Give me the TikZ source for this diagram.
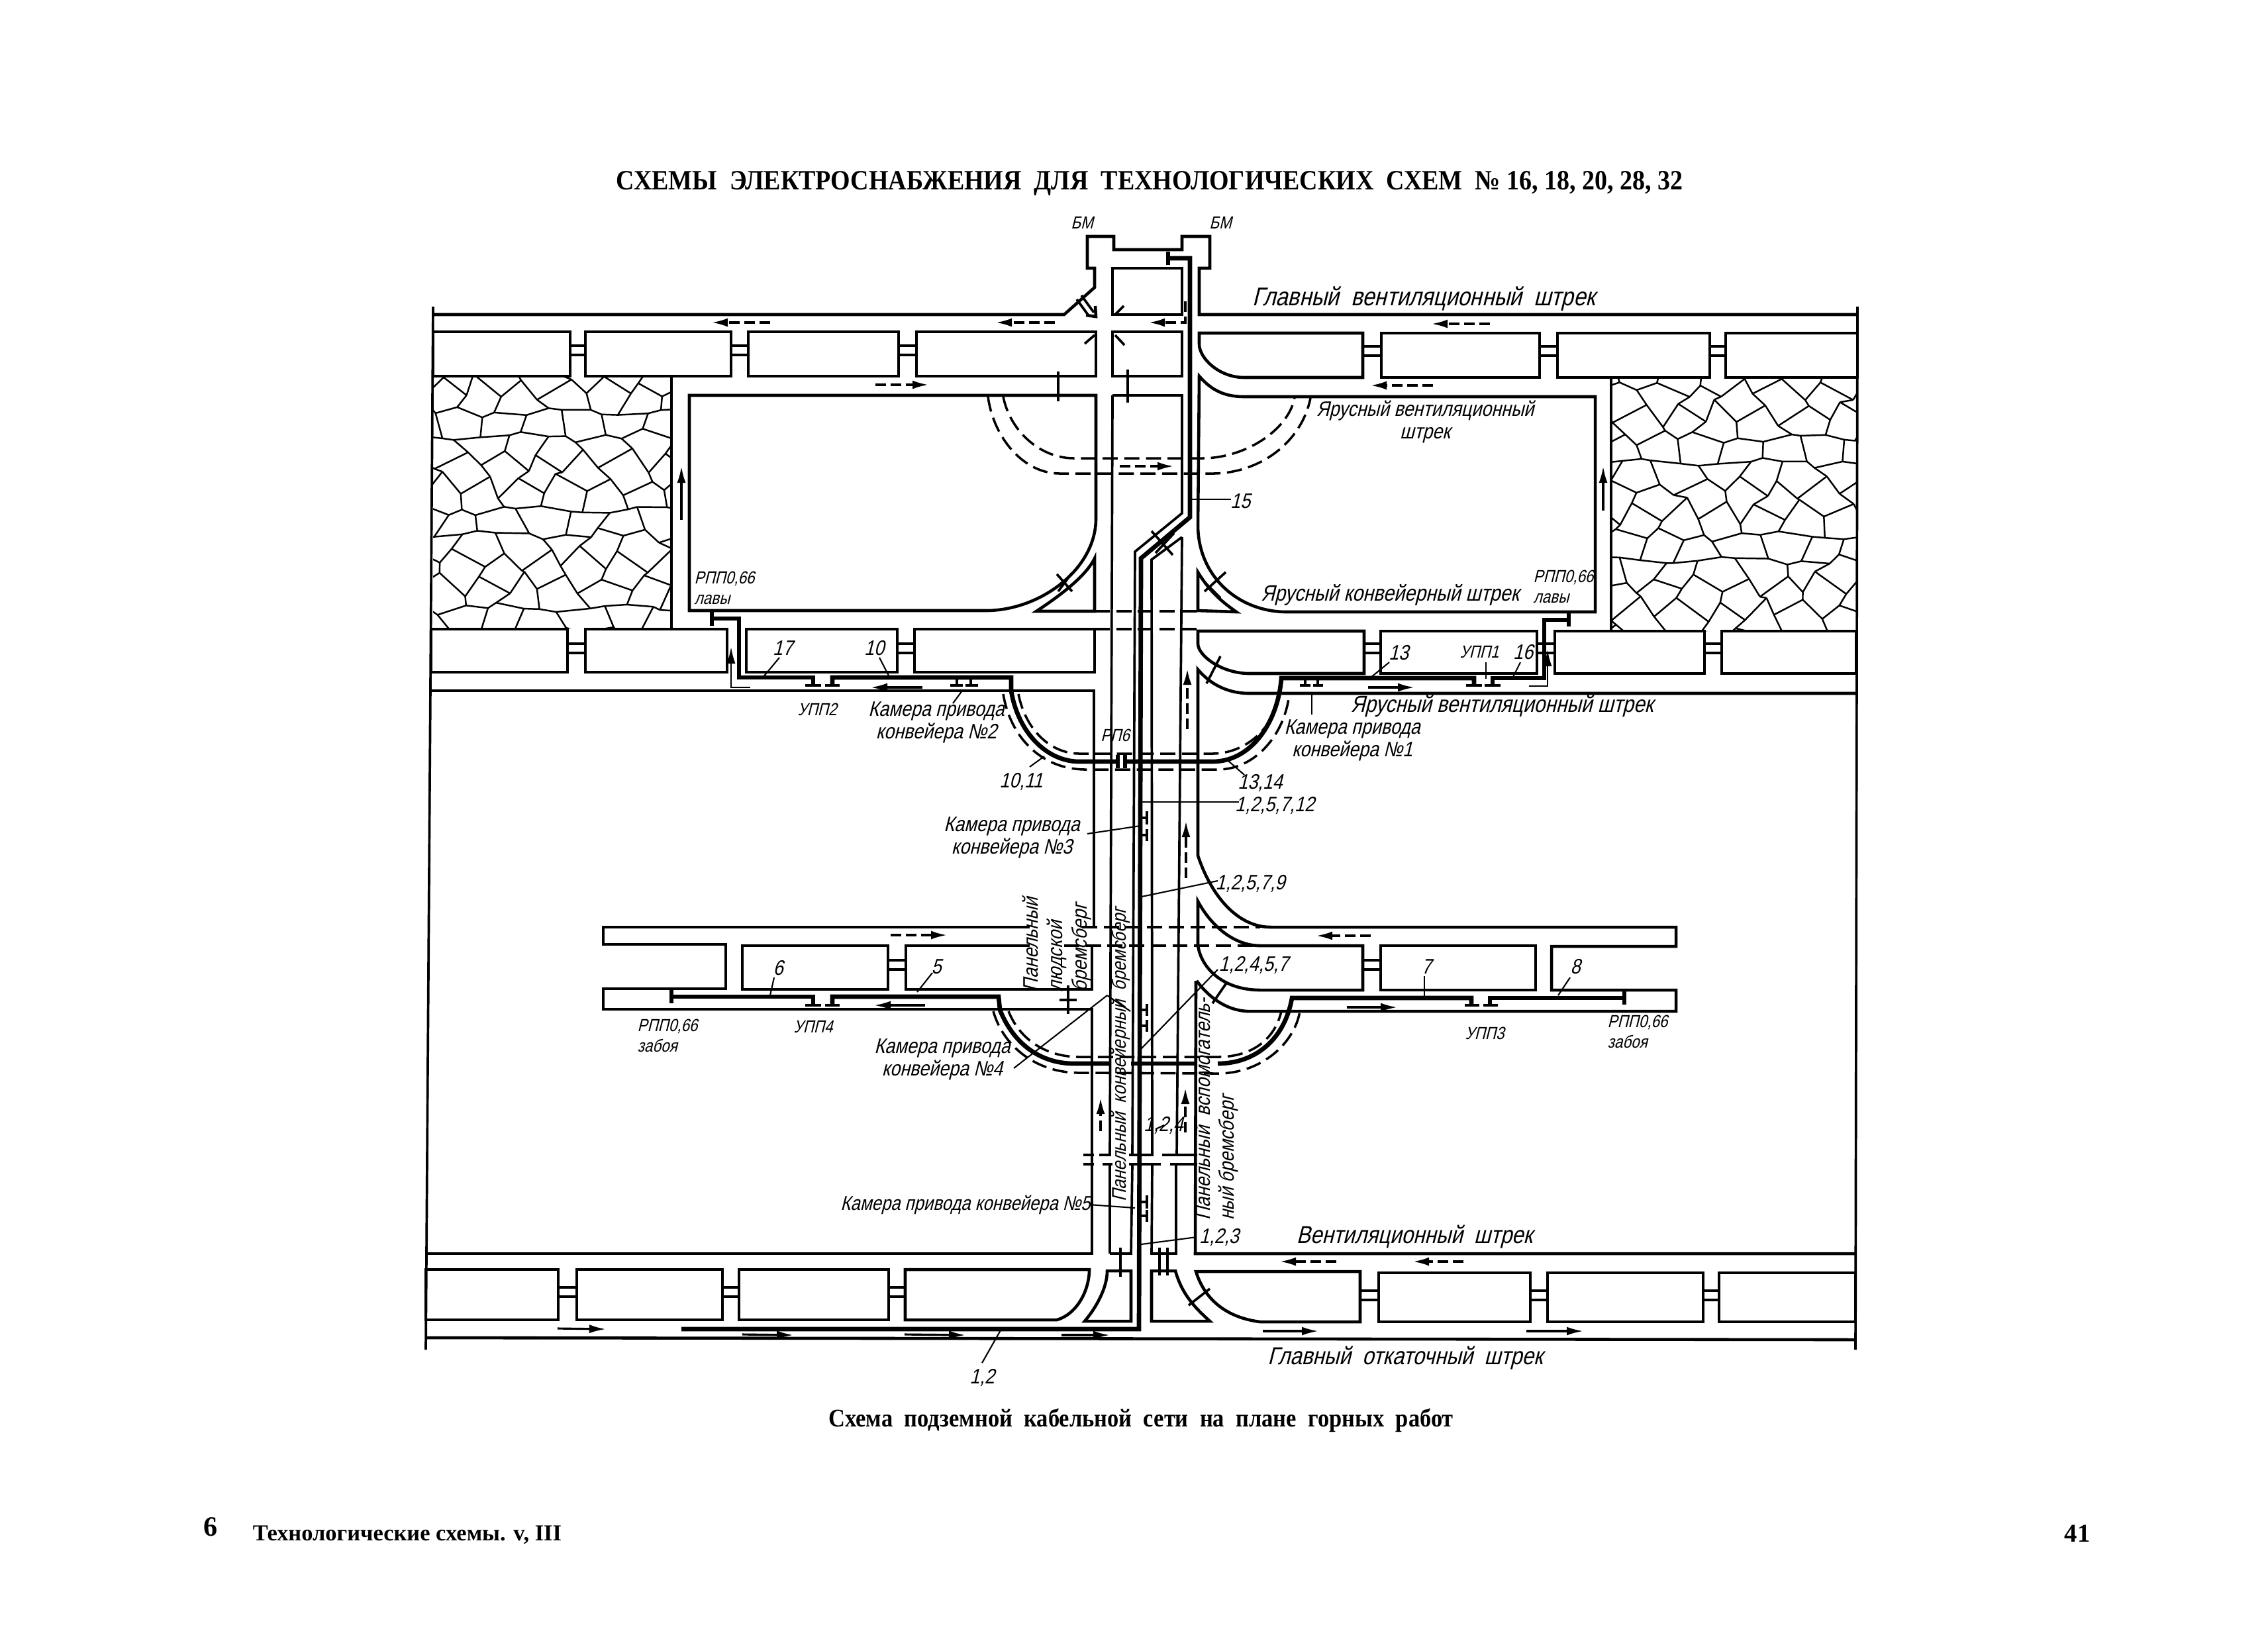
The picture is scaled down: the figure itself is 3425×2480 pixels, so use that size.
\documentclass[tikz,border=0pt]{standalone}
\usepackage{fontspec}
\setmainfont{Liberation Serif}
\newfontfamily\draftfont[FakeStretch=0.85,FakeSlant=0.25]{Liberation Sans}
\newfontfamily\headfont[FakeStretch=0.9]{Liberation Serif}
\usetikzlibrary{arrows.meta}
\tikzset{
  wall/.style={line width=1.3pt,line join=miter},
  thinwall/.style={line width=1.05pt},
  cable/.style={line width=1.9pt},
  drift/.style={line width=1pt,dash pattern=on 6.5pt off 2.8pt},
  air/.style={line width=0.9pt,dash pattern=on 4.5pt off 2pt,-{Latex[length=2.4mm,width=1.3mm]}},
  haul/.style={line width=0.9pt,-{Latex[length=2.5mm,width=1.3mm]}},
  leader/.style={line width=0.6pt},
  stone/.style={line width=0.7pt,rounded corners=1.5pt},
  lbl/.style={inner sep=0pt,font=\draftfont\fontsize{10.5}{12}\selectfont},
  lblmid/.style={inner sep=0pt,font=\draftfont\fontsize{9}{9.5}\selectfont},
  lblsmall/.style={inner sep=0pt,font=\draftfont\fontsize{7.5}{9}\selectfont},
  heading/.style={inner sep=0pt,font=\headfont\bfseries\fontsize{12}{13}\selectfont},
  declare function={
    stonex(\c,\r,\o)=\c*31+9*sin(\c*131+\r*227+\o)+6*sin(\c*47+\r*71+\o*3);
    stoney(\c,\r,\o)=\r*37+ifthenelse(mod(\c+\r,2)==0,-8,8)+8*sin(\c*173+\r*89+\o*2)+5*sin(\c*59+\r*113+\o);
  }
}
\begin{document}
\begin{tikzpicture}[x=0.01cm,y=-0.01cm]
  \useasboundingbox (0,0) rectangle (3425,2480);

  % stones
  \foreach \gx/\gy/\gw/\gh/\off in {654/568/360/380/0,2433/570/370/383/57}
  {
    \begin{scope}
      \clip (\gx,\gy) rectangle (\gx+\gw,\gy+\gh);
      \begin{scope}[shift={(\gx-20,\gy-20)}]
        \foreach \r in {0,1,...,11}
          \foreach \c in {0,1,...,13}
          {
            \draw [stone] ({stonex(\c,\r,\off)},{stoney(\c,\r,\off)}) -- ({stonex(\c+1,\r,\off)},{stoney(\c+1,\r,\off)});
            \pgfmathparse{int(mod(\c+\r,2))}
            \ifnum\pgfmathresult=1
              \draw [stone] ({stonex(\c,\r,\off)},{stoney(\c,\r,\off)}) -- ({stonex(\c,\r+1,\off)},{stoney(\c,\r+1,\off)});
            \fi
          }
      \end{scope}
    \end{scope}
  }

  % outer frame
  \draw [thinwall] (654,463) -- (643,2038);
  \draw [thinwall] (2805,463) -- (2802,2038);
  \draw [thinwall] (1014,568) -- (1014,948);
  \draw [thinwall] (2433,570) -- (2433,953);

  % shaft and main ventilation drift
  \draw [wall] (654,475) -- (1607,475) -- (1653,434) -- (1653,405) -- (1642,405) -- (1642,357) -- (1682,357)
    -- (1682,377) -- (1785,377) -- (1785,357) -- (1827,357) -- (1827,405) -- (1811,405) -- (1811,475) -- (2805,475);

  % pillars
  \foreach \xa/\ya/\xb/\yb in {654/501/861/568,884/501/1104/568,1130/501/1357/568,1384/501/1655/568,
      1680/501/1785/568,1680/405/1785/475,2086/503/2325/570,2352/503/2582/570,2606/503/2805/570,
      651/950/857/1015,884/950/1098/1015,1127/950/1355/1015,1381/950/1653/1015,
      2085/953/2321/1017,2348/953/2574/1017,2600/953/2803/1017,
      1121/1428/1341/1494,2085/1428/2319/1495,
      643/1917/843/1993,871/1917/1091/1993,1116/1917/1342/1993,
      2082/1922/2311/1996,2337/1922/2572/1996,2596/1922/2802/1996}
    \draw [wall] (\xa,\ya) rectangle (\xb,\yb);

  % pillar links
  \foreach \xa/\xb/\yy in {861/884/522,1104/1130/522,1357/1384/522,2058/2086/523,2325/2352/523,2582/2606/523,
      857/884/972,1355/1381/972,2060/2085/972,2321/2348/972,2574/2600/972,
      1341/1368/1450,2058/2085/1450,
      843/871/1944,1091/1116/1944,1342/1367/1944,2054/2082/1949,2311/2337/1949,2572/2596/1949}
  {
    \draw [wall] (\xa,\yy) -- (\xb,\yy);
    \draw [wall] (\xa,\yy+14) -- (\xb,\yy+14);
  }

  % curved pillars and panels
  \draw [wall] (1811,503) -- (2058,503) -- (2058,570) -- (1879,570) .. controls (1840,570) and (1811,540) .. (1811,520) -- cycle;
  \draw [wall] (1041,597) -- (1655,597) -- (1655,783) .. controls (1655,860) and (1570,922) .. (1489,922) -- (1041,922) -- cycle;
  \draw [wall] (1653,843) -- (1653,923) -- (1565,923) .. controls (1600,900) and (1640,870) .. cycle;
  \draw [wall] (1811,568) .. controls (1830,590) and (1850,599) .. (1879,599) -- (2409,599) -- (2409,924) -- (1943,924)
    .. controls (1870,924) and (1809,870) .. (1809,793) -- cycle;
  \draw [wall] (1809,864) -- (1809,922) -- (1867,924) .. controls (1840,905) and (1825,890) .. cycle;
  \draw [wall] (1809,953) -- (2060,953) -- (2060,1017) -- (1887,1017) .. controls (1845,1017) and (1809,990) .. (1809,972) -- cycle;

  % middle level
  \draw [wall] (651,1043) -- (1652,1043) -- (1652,1400);
  \draw [wall] (2803,1047) -- (1887,1047) .. controls (1850,1047) and (1825,1030) .. (1809,1011) -- (1809,1292)
    .. controls (1830,1355) and (1870,1400) .. (1919,1400) -- (2531,1400) -- (2531,1429) -- (2343,1429) -- (2343,1495)
    -- (2531,1495) -- (2531,1527) -- (1883,1527) .. controls (1850,1525) and (1825,1505) .. (1807,1481);
  \draw [wall] (1809,1361) .. controls (1830,1400) and (1865,1428) .. (1903,1428) -- (2058,1428) -- (2058,1495) -- (1903,1495)
    .. controls (1850,1495) and (1815,1465) .. (1809,1428) -- cycle;
  \draw [wall] (1555,1400) -- (911,1400) -- (911,1426) -- (1096,1426) -- (1096,1493) -- (911,1493) -- (911,1524) -- (1649,1524) -- (1649,1893) -- (643,1893);
  \draw [wall] (1555,1428) -- (1368,1428) -- (1368,1494) -- (1649,1494) -- (1649,1428);

  % central incline
  \draw [thinwall] (1680,597) -- (1676,1744);
  \draw [thinwall] (1676,1758) -- (1676,1893);
  \draw [thinwall] (1680,597) -- (1785,597) -- (1785,775) -- (1714,833) -- (1710,1744);
  \draw [thinwall] (1710,1758) -- (1708,1893) -- (1676,1893);
  \draw [thinwall] (1785,811) -- (1739,845) -- (1740,1744);
  \draw [thinwall] (1785,811) -- (1777,1744);
  \draw [thinwall] (1740,1758) -- (1739,1893) -- (1776,1893) -- (1776,1758);
  \draw [wall] (1806,1481) -- (1805,1893) -- (2803,1893);
  \foreach \xa/\xb in {1636/1652,1660/1678,1705/1742,1755/1808}
    \draw [wall] (\xa,1744) -- (\xb,1744);
  \foreach \xa/\xb in {1636/1652,1665/1680,1705/1753,1767/1808}
    \draw [wall] (\xa,1758) -- (\xb,1758);

  % lower level
  \draw [wall] (1645,1917) -- (1367,1917) -- (1367,1993) -- (1596,1993) .. controls (1625,1985) and (1645,1950) .. cycle;
  \draw [wall] (1672,1919) -- (1708,1919) -- (1708,1995) -- (1638,1995) .. controls (1655,1975) and (1672,1945) .. cycle;
  \draw [wall] (1739,1919) -- (1775,1919) .. controls (1785,1955) and (1805,1975) .. (1827,1995) -- (1739,1995) -- cycle;
  \draw [wall] (1806,1920) -- (2054,1920) -- (2054,1996) -- (1903,1996) .. controls (1855,1990) and (1820,1965) .. cycle;
  \draw [wall] (643,2020) -- (2802,2023);

  % dashed drifts
  \draw [drift] (1492,599) .. controls (1500,660) and (1545,715) .. (1600,715) -- (1831,715) .. controls (1900,715) and (1965,670) .. (1979,601);
  \draw [drift] (1515,599) .. controls (1525,650) and (1570,692) .. (1622,692) -- (1815,692) .. controls (1880,692) and (1945,650) .. (1955,601);
  \draw [drift] (1653,923) -- (1809,923);
  \draw [drift] (1653,950) -- (1809,950);
  \draw [drift] (1515,1048) .. controls (1525,1110) and (1570,1162) .. (1640,1162) -- (1839,1162) .. controls (1895,1162) and (1940,1110) .. (1947,1048);
  \draw [drift] (1538,1048) .. controls (1548,1100) and (1585,1138) .. (1630,1138) -- (1831,1138) .. controls (1880,1138) and (1925,1100) .. (1931,1048);
  \draw [drift] (1634,1400) -- (1903,1400);
  \draw [drift] (1607,1428) -- (1903,1428);
  \draw [drift] (1500,1527) .. controls (1515,1580) and (1565,1620) .. (1630,1620) -- (1839,1621) .. controls (1905,1621) and (1955,1575) .. (1963,1527);
  \draw [drift] (1523,1527) .. controls (1540,1570) and (1580,1596) .. (1630,1596) -- (1839,1596) .. controls (1890,1596) and (1925,1570) .. (1935,1527);

  % cables
  \draw [cable] (1764,380) -- (1764,400);
  \draw [cable] (1764,390) -- (1797,390) -- (1797,781) -- (1723,843) -- (1720,2007) -- (1029,2007);
  \draw [cable] (1075,922) -- (1075,945);
  \draw [cable] (1075,934) -- (1116,934) -- (1116,1023) -- (1228,1023) -- (1228,1034);
  \draw [cable] (1257,1034) -- (1257,1023) -- (1527,1023) -- (1527,1043) .. controls (1537,1105) and (1580,1150) .. (1630,1150) -- (1688,1150);
  \draw [cable] (1688,1140) -- (1688,1160);
  \draw [cable] (1699,1140) -- (1699,1160);
  \draw [cable] (1699,1150) -- (1831,1150) .. controls (1890,1150) and (1930,1090) .. (1935,1024) -- (2226,1024) -- (2226,1035);
  \draw [cable] (2254,1035) -- (2254,1024) -- (2332,1024) -- (2332,936) -- (2369,936);
  \draw [cable] (2369,926) -- (2369,946);
  \draw [cable] (1014,1495) -- (1014,1515);
  \draw [cable] (1014,1505) -- (1228,1505) -- (1228,1516);
  \draw [cable] (1257,1516) -- (1257,1505) -- (1508,1505) -- (1510,1525) .. controls (1530,1575) and (1570,1606) .. (1622,1606) -- (1676,1606);
  \draw [cable] (1708,1606) -- (1807,1606);
  \draw [cable] (1839,1606) .. controls (1895,1606) and (1940,1570) .. (1951,1507) -- (2222,1507) -- (2222,1518);
  \draw [cable] (2250,1518) -- (2250,1507) -- (2453,1507);
  \draw [cable] (2453,1497) -- (2453,1517);

  % drive chamber marks on the cable
  \foreach \xa/\xb in {1216/1240,1246/1268,1435/1454,1458/1477,1963/1979,1983/1998,2214/2238,2242/2266}
    \draw [wall] (\xa,1035) -- (\xb,1035);
  \foreach \xa/\xb in {1216/1240,1246/1268,2212/2234,2240/2262}
    \draw [wall] (\xa,1518) -- (\xb,1518);
  \foreach \xx in {1445,1466,1971,1990}
    \draw [wall] (\xx,1023) -- (\xx,1035);
  \foreach \ya/\yb in {1225/1245,1252/1270,1516/1534,1540/1558,1805/1825,1827/1845}
  {
    \draw [wall] (1732,\ya) -- (1732,\yb);
    \draw [wall] (1722,{(\ya+\yb)/2}) -- (1732,{(\ya+\yb)/2});
  }

  % ticks and crossings
  \foreach \xa/\ya/\xb/\yb in {1684/475/1697/462,1638/519/1653/506,1684/506/1698/521,1598/561/1598/606,1703/558/1703/608,
      1596/867/1619/893,1598/893/1618/866,1739/802/1771/838,1745/835/1773/805,1851/864/1819/893,1819/879/1843/903,
      1843/991/1822/1032,1613/1488/1613/1531,1600/1510/1626/1510,1853/1483/1831/1515,
      1692/1884/1692/1928,1751/1884/1751/1926,1763/1884/1763/1926,1795/1971/1827/1946}
    \draw [thinwall] (\xa,\ya) -- (\xb,\yb);

  % double line arrow at the shaft
  \draw [thinwall] (1633,446) -- (1652,472);
  \draw [thinwall] (1626,452) -- (1645,478);
  \draw [wall] (1654,462) -- (1655,478) -- (1640,476);

  % air and haulage arrows
  \foreach \xa/\ya/\xb/\yb in {1163/487/1075/487,1593/487/1504/487,2250/489/2162/489,1322/581/1402/581,2164/582/2070/582,
      1691/704/1772/704,1793/1101/1793/1010,1791/1326/1791/1240,1345/1412/1430/1412,2070/1413/1988/1413,
      1662/1708/1662/1658,1790/1710/1790/1643,2018/1905/1933/1905,2210/1905/2134/1905}
    \draw [air] (\xa,\ya) -- (\xb,\yb);
  \draw [air] (1790,455) -- (1790,487) -- (1735,487);
  \foreach \xa/\ya/\xb/\yb in {1029/785/1029/704,2421/771/2421/704,1393/1038/1315/1038,2066/1038/2136/1038,
      1397/1518/1320/1518,2034/1521/2110/1521,842/2006/915/2007,1121/2015/1198/2016,1366/2015/1458/2016,1603/2016/1676/2016,
      1907/2010/1991/2010,2305/2010/2391/2010}
    \draw [haul] (\xa,\ya) -- (\xb,\yb);
  \draw [haul,line width=0.6pt] (1133,1038) -- (1104,1038) -- (1104,977);
  \draw [haul,line width=0.6pt] (2309,1036) -- (2337,1036) -- (2337,981);

  % leaders
  \foreach \xa/\ya/\xb/\yb in {1177/993/1152/1023,1328/993/1343/1022,2098/1000/2070/1023,2244/1000/2244/1025,2296/1000/2285/1022,
      1453/1043/1439/1062,1981/1048/1981/1079,1577/1142/1555/1158,1855/1149/1879/1170,1723/1211/1871/1211,
      1642/1259/1722/1247,1724/1354/1839/1330,1839/1464/1723/1584,1169/1476/1163/1503,1408/1469/1385/1498,
      2151/1474/2151/1504,2371/1476/2353/1503,1645/1819/1714/1824,1807/1868/1723/1879,1512/2007/1483/2058,1797/754/1859/754,
      1531/1613/1672/1503,1672/1503/1707/1527,1758/1699/1745/1705}
    \draw [leader] (\xa,\ya) -- (\xb,\yb);

  % texts
  \node [heading] (title) at (1736,277) {СХЕМЫ\ \ ЭЛЕКТРОСНАБЖЕНИЯ\ \ ДЛЯ\ \ ТЕХНОЛОГИЧЕСКИХ\ \ СХЕМ\ \ №\ 16,\ 18,\ 20,\ 28,\ 32};
  \node [heading,font=\headfont\bfseries\fontsize{10.9}{13}\selectfont] (caption) at (1723,2145) {Схема\ \ подземной\ \ кабельной\ \ сети\ \ на\ \ плане\ \ горных\ \ работ};
  \node [heading,font=\bfseries\fontsize{12}{14}\selectfont] (sheetmark) at (318,2306) {6};
  \node [heading,font=\bfseries\fontsize{9.8}{10}\selectfont] (sheettitle) at (615,2318) {Технологические схемы. v, III};
  \node [heading,font=\bfseries\fontsize{11}{13}\selectfont] (pageno) at (3137,2316) {41};

  \node [lblsmall] (shaftL) at (1634,336) {БМ};
  \node [lblsmall] (shaftR) at (1843,336) {БМ};
  \node [lbl,font=\draftfont\fontsize{11}{12}\selectfont] (mainvent) at (2150,451) {Главный\ \ вентиляционный\ \ штрек};
  \node [lblmid,align=center] (tiervent) at (2152,637) {Ярусный вентиляционный\\штрек};
  \node [lbl,font=\draftfont\fontsize{9.6}{12}\selectfont] (tierconv) at (2099,898) {Ярусный конвейерный штрек};
  \node [lblsmall,align=left] (rppleft) at (1094,888) {РПП0,66\\лавы};
  \node [lblsmall,align=left] (rppright) at (2361,886) {РПП0,66\\лавы};
  \node [lbl,font=\draftfont\fontsize{10}{12}\selectfont] (tiervent2) at (2268,1066) {Ярусный вентиляционный штрек};
  \node [lbl] (vent) at (2136,1868) {Вентиляционный\ \ штрек};
  \node [lbl] (haulage) at (2122,2051) {Главный\ \ откаточный\ \ штрек};

  \node [lblmid] (n17) at (1182,979) {17};
  \node [lblmid] (n10) at (1320,979) {10};
  \node [lblmid] (n13) at (2112,986) {13};
  \node [lblmid] (n16) at (2300,985) {16};
  \node [lblsmall] (upp1) at (2234,985) {УПП1};
  \node [lblsmall] (upp2) at (1234,1071) {УПП2};
  \node [lblsmall] (upp3) at (2242,1560) {УПП3};
  \node [lblsmall] (upp4) at (1228,1551) {УПП4};
  \node [lblsmall] (rp6) at (1684,1110) {РП6};
  \node [lblmid,align=center] (drive2) at (1414,1091) {Камера привода\\конвейера №2};
  \node [lblmid,align=center] (drive1) at (2042,1118) {Камера привода\\конвейера №1};
  \node [lblmid,align=center] (drive3) at (1528,1265) {Камера привода\\конвейера №3};
  \node [lblmid,align=center] (drive4) at (1423,1600) {Камера привода\\конвейера №4};
  \node [lblmid,font=\draftfont\fontsize{8.6}{10}\selectfont] (drive5) at (1458,1819) {Камера привода конвейера №5};
  \node [lblmid] (n1011) at (1542,1180) {10,11};
  \node [lblmid] (n1314) at (1903,1182) {13,14};
  \node [lblmid] (n12) at (1925,1216) {1,2,5,7,12};
  \node [lblmid] (n9) at (1888,1334) {1,2,5,7,9};
  \node [lblmid] (n7) at (1893,1457) {1,2,4,5,7};
  \node [lblmid] (n15) at (1873,757) {15};
  \node [lblmid] (n124) at (1757,1699) {1,2,4};
  \node [lblmid] (n123) at (1841,1868) {1,2,3};
  \node [lblmid] (n112) at (1483,2080) {1,2};
  \node [lblmid] (n6) at (1175,1462) {6};
  \node [lblmid] (n5) at (1414,1460) {5};
  \node [lblmid] (n7b) at (2154,1460) {7};
  \node [lblmid] (n8) at (2379,1460) {8};
  \node [lblsmall,align=left] (rppface1) at (1008,1564) {РПП0,66\\забоя};
  \node [lblsmall,align=left] (rppface2) at (2473,1558) {РПП0,66\\забоя};
  \node [lblmid,rotate=90,align=left,font=\draftfont\fontsize{9}{10.5}\selectfont] (incline1) at (1596,1426) {Панельный\\людской\\бремсберг};
  \node [lblmid,rotate=90,font=\draftfont\fontsize{8.5}{10}\selectfont] (incline2) at (1692,1593) {Панельный\ \ конвейерный\ \ бремсберг};
  \node [lblmid,rotate=90,align=left,font=\draftfont\fontsize{9}{10.5}\selectfont] (incline3) at (1837,1675) {Панельный\ \ вспомогатель-\\ный\ бремсберг};
\end{tikzpicture}
\end{document}
